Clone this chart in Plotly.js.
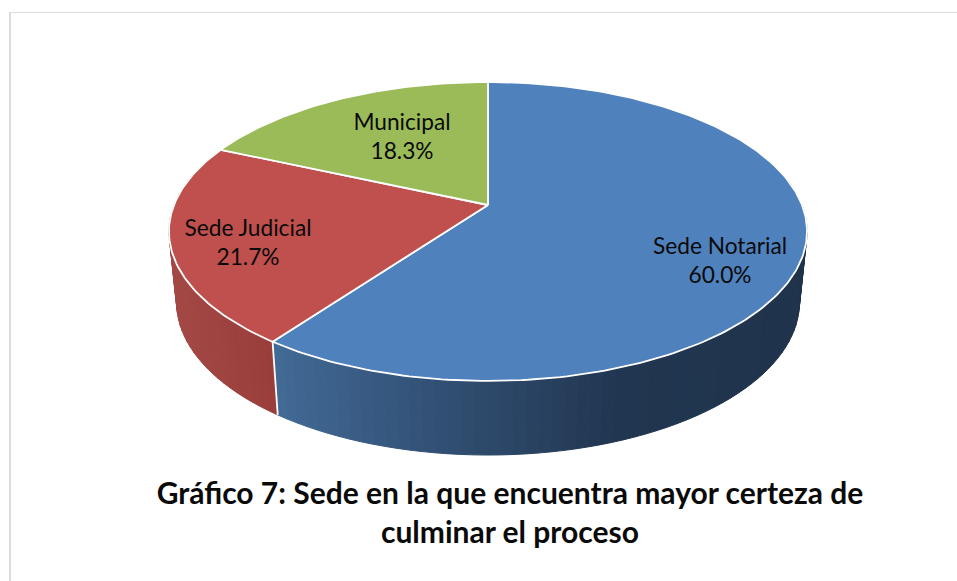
<!DOCTYPE html>
<html>
<head>
<meta charset="utf-8">
<script src="https://cdn.plot.ly/plotly-3.0.1.min.js"></script>
<style>html,body{margin:0;padding:0;background:#fff}#chart{width:957px;height:581px}</style>
</head>
<body>
<div id="chart"></div>
<script>
// Data
var categories = ['Sede Notarial', 'Sede Judicial', 'Municipal'];
var values = [60.0, 21.7, 18.3];
var topColors = ['#4f81bd', '#c0504d', '#9bbb59'];
var labelX = [720, 248, 402];
var labelY = [263, 245, 139];
var titleLines = ['Gráfico 7: Sede en la que encuentra mayor certeza de', 'culminar el proceso'];

// Side-wall shading stops: [x position, r, g, b]
var wallStops = [
  [[270, 66, 107, 150], [400, 53, 85, 124], [500, 44, 71, 103], [620, 33, 54, 80], [810, 31, 51, 75]],
  [[170, 163, 72, 68], [270, 154, 62, 60]],
  [[170, 120, 150, 70], [480, 120, 150, 70]]
];

// Projection of the pie disc onto the page (tilted, with perspective)
var cx = 488, k = 0.177;
var topDisc = {R: 314, B: 144.8, apexY: 205};
var baseDisc = {R: 306.5, B: 148, apexY: 275.2};

function project(d, deg) {
  var a = deg * Math.PI / 180, u = Math.sin(a), v = Math.cos(a), w = 1 + k * v;
  return [cx + d.R * u / w, d.apexY - d.B * v / w];
}
function wallColor(stops, x) {
  if (x <= stops[0][0]) return 'rgb(' + stops[0].slice(1).join(',') + ')';
  for (var i = 1; i < stops.length; i++) {
    if (x <= stops[i][0]) {
      var t = (x - stops[i - 1][0]) / (stops[i][0] - stops[i - 1][0]), c = [];
      for (var j = 1; j < 4; j++) c.push(Math.round(stops[i - 1][j] + t * (stops[i][j] - stops[i - 1][j])));
      return 'rgb(' + c.join(',') + ')';
    }
  }
  return 'rgb(' + stops[stops.length - 1].slice(1).join(',') + ')';
}

var total = values.reduce(function (s, x) { return s + x; }, 0);
var traces = [], start = 0, spans = [];
values.forEach(function (val, i) {
  var end = start + val / total * 360;
  spans.push([start, end]);
  start = end;
});

// Side walls (only the front part can be seen)
spans.forEach(function (sp, i) {
  var a0 = Math.max(sp[0], 75), a1 = Math.min(sp[1], 300);
  if (a1 <= a0) return;
  var n = Math.ceil((a1 - a0) / 2);
  for (var s = 0; s < n; s++) {
    var b0 = a0 + (a1 - a0) * s / n, b1 = a0 + (a1 - a0) * (s + 1) / n;
    var p = [project(topDisc, b0), project(topDisc, b1), project(baseDisc, b1), project(baseDisc, b0)];
    var col = wallColor(wallStops[i], (p[0][0] + p[1][0]) / 2);
    traces.push({
      type: 'scatter', mode: 'lines', fill: 'toself', fillcolor: col,
      line: {color: col, width: 1},
      x: [p[0][0], p[1][0], p[2][0], p[3][0], p[0][0]],
      y: [p[0][1], p[1][1], p[2][1], p[3][1], p[0][1]],
      hoverinfo: 'skip', showlegend: false
    });
  }
});

// White edge between the visible walls
var edgeT = project(topDisc, spans[0][1]), edgeB = project(baseDisc, spans[0][1]);
traces.push({type: 'scatter', mode: 'lines', x: [edgeT[0], edgeB[0]], y: [edgeT[1], edgeB[1]],
  line: {color: '#ffffff', width: 1.8}, hoverinfo: 'skip', showlegend: false});

// Top faces
spans.forEach(function (sp, i) {
  var xs = [cx], ys = [topDisc.apexY];
  var n = Math.ceil(sp[1] - sp[0]);
  for (var s = 0; s <= n; s++) {
    var p = project(topDisc, sp[0] + (sp[1] - sp[0]) * s / n);
    xs.push(p[0]); ys.push(p[1]);
  }
  xs.push(cx); ys.push(topDisc.apexY);
  traces.push({type: 'scatter', mode: 'lines', fill: 'toself', fillcolor: topColors[i], x: xs, y: ys,
    line: {color: '#ffffff', width: 1.8}, name: categories[i], hoverinfo: 'skip', showlegend: false});
});

// Slice labels
traces.push({
  type: 'scatter', mode: 'text', x: labelX, y: labelY,
  text: categories.map(function (c, i) { return c + '<br>' + values[i].toFixed(1) + '%'; }),
  textposition: 'middle center',
  textfont: {family: 'Lato, sans-serif', size: 22.7, color: '#0a0a0a'},
  hoverinfo: 'skip', showlegend: false
});

var layout = {
  width: 957, height: 581,
  margin: {l: 0, r: 0, t: 0, b: 0},
  paper_bgcolor: '#ffffff', plot_bgcolor: '#ffffff',
  showlegend: false,
  xaxis: {range: [0, 957], visible: false, fixedrange: true},
  yaxis: {range: [581, 0], visible: false, fixedrange: true},
  title: {
    text: titleLines.join('<br>'),
    font: {family: 'Lato, sans-serif', size: 30, color: '#0a0a0a', weight: 700},
    x: 510 / 957, xanchor: 'center', xref: 'container',
    y: 1 - 504 / 581, yanchor: 'top', yref: 'container'
  },
  shapes: [
    {type: 'line', xref: 'x', yref: 'y', x0: 9, x1: 957, y0: 12.5, y1: 12.5, line: {color: '#dcdcdc', width: 1}},
    {type: 'line', xref: 'x', yref: 'y', x0: 10, x1: 10, y0: 12, y1: 581, line: {color: '#dcdcdc', width: 2}}
  ]
};
Plotly.newPlot('chart', traces, layout, {displayModeBar: false, staticPlot: true});
</script>
</body>
</html>
